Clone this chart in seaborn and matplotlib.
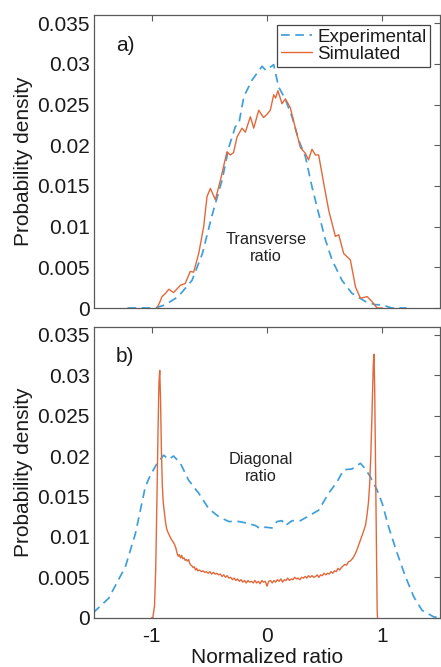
import numpy as np
import pandas as pd
import matplotlib
matplotlib.use("Agg")
import matplotlib.pyplot as plt
import seaborn as sns
from matplotlib.ticker import FixedLocator, FixedFormatter

# ---------------- data ----------------
exp_a_x = [-1.21, -1.10, -0.97, -0.88, -0.77, -0.65, -0.56, -0.48, -0.39, -0.33, -0.274, -0.245,
           -0.20, -0.13, -0.043, -0.01, 0.058, 0.10, 0.16, 0.217, 0.275, 0.333, 0.39, 0.448,
           0.506, 0.564, 0.65, 0.737, 0.853, 0.94, 0.997, 1.08, 1.21]
exp_a_y = [0.0, 0.0, 0.0, 0.0004, 0.0014, 0.0034, 0.0067, 0.0112, 0.0157, 0.0198, 0.0223, 0.0226,
           0.0260, 0.0280, 0.0297, 0.0292, 0.0299, 0.0272, 0.0256, 0.0235, 0.0206, 0.0186, 0.0149, 0.0116,
           0.0084, 0.0059, 0.0034, 0.0018, 0.0008, 0.0004, 0.0004, 0.0, 0.0]

sim_a_x = [-0.954, -0.93, -0.91, -0.88, -0.852, -0.81, -0.75, -0.71, -0.665, -0.636, -0.592, -0.549,
           -0.52, -0.491, -0.448, -0.404, -0.347, -0.318, -0.29, -0.26, -0.217, -0.188, -0.144, -0.115,
           -0.072, -0.03, 0.0, 0.029, 0.058, 0.075, 0.095, 0.13, 0.16, 0.202, 0.246, 0.29, 0.333,
           0.36, 0.39, 0.42, 0.448, 0.492, 0.535, 0.593, 0.622, 0.665, 0.723, 0.767, 0.81, 0.868,
           0.91, 0.954, 1.0]
sim_a_y = [0.0, 0.0007, 0.0014, 0.0018, 0.0023, 0.0019, 0.0028, 0.0030, 0.0045, 0.0044, 0.0067, 0.0100,
           0.0137, 0.0147, 0.0133, 0.0157, 0.0192, 0.0188, 0.0191, 0.0210, 0.0221, 0.0216, 0.0235, 0.0221,
           0.0243, 0.0234, 0.0238, 0.0243, 0.0262, 0.0258, 0.0267, 0.0251, 0.0257, 0.0246, 0.0221, 0.0197, 0.0190,
           0.0182, 0.0195, 0.0188, 0.0188, 0.0153, 0.0120, 0.0088, 0.0090, 0.0067, 0.0059, 0.0026, 0.0012, 0.0014,
           0.0008, 0.0, 0.0]

exp_b_x = [-1.508, -1.373, -1.228, -1.141, -1.055, -1.012, -0.953, -0.896, -0.853, -0.81, -0.751, -0.679,
           -0.592, -0.506, -0.419, -0.332, -0.246, -0.173, -0.10, -0.057, -0.014, 0.043, 0.087, 0.13,
           0.16, 0.217, 0.289, 0.376, 0.448, 0.535, 0.607, 0.665, 0.737, 0.81, 0.853, 0.897, 0.954,
           1.0, 1.055, 1.128, 1.20, 1.272, 1.345, 1.446, 1.50]
exp_b_y = [0.0006, 0.0024, 0.0063, 0.0104, 0.0162, 0.0176, 0.0191, 0.0201, 0.0196, 0.0200, 0.0191, 0.0170,
           0.0154, 0.0135, 0.0125, 0.0119, 0.0119, 0.0117, 0.0114, 0.0110, 0.0112, 0.0111, 0.0119, 0.0120,
           0.0114, 0.0120, 0.0120, 0.0127, 0.0133, 0.0154, 0.0168, 0.0183, 0.0184, 0.0191, 0.0184, 0.0174, 0.0158,
           0.0141, 0.0112, 0.0080, 0.0051, 0.0026, 0.0009, 0.0001, 0.0]

sim_b_x = [-1.000, -0.990, -0.975, -0.965, -0.955, -0.945, -0.937, -0.930, -0.923, -0.916, -0.908, -0.900,
           -0.890, -0.880, -0.870, -0.860, -0.850, -0.840, -0.830, -0.820, -0.810,
           -0.800, -0.790, -0.780, -0.770, -0.760, -0.750, -0.740, -0.730, -0.720, -0.710, -0.700, -0.690,
           -0.680, -0.670, -0.660, -0.650, -0.640, -0.630, -0.620, -0.610, -0.600, -0.585, -0.570, -0.555,
           -0.540, -0.525, -0.510, -0.495, -0.480, -0.465, -0.450, -0.435, -0.420, -0.405, -0.390, -0.375,
           -0.360, -0.345, -0.330, -0.315, -0.300, -0.285, -0.270, -0.255, -0.240, -0.225, -0.210, -0.195,
           -0.180, -0.165, -0.150, -0.135, -0.120, -0.105, -0.090, -0.075, -0.060, -0.045, -0.030, -0.015,
           0.000, 0.015, 0.030, 0.045, 0.060, 0.075, 0.090, 0.105, 0.120, 0.135, 0.150, 0.165, 0.180, 0.195,
           0.210, 0.225, 0.240, 0.255, 0.270, 0.285, 0.300, 0.315, 0.330, 0.345, 0.360, 0.375, 0.390, 0.405,
           0.420, 0.435, 0.450, 0.465, 0.480, 0.495, 0.510, 0.525, 0.540, 0.555, 0.570, 0.585, 0.600, 0.615,
           0.630, 0.645, 0.660, 0.675, 0.690, 0.705, 0.720, 0.735, 0.750, 0.765, 0.780, 0.795, 0.810, 0.825,
           0.840, 0.855, 0.868, 0.880, 0.890, 0.900, 0.908, 0.916, 0.922, 0.928, 0.934, 0.940, 0.946, 0.951,
           0.955, 0.958]
sim_b_y = [0.0, 0.0, 0.0015, 0.0060, 0.0140, 0.0230, 0.0290, 0.0306, 0.0270, 0.0210, 0.0165, 0.0143,
           0.0130, 0.0118, 0.0110, 0.0106, 0.0103, 0.0100, 0.0097, 0.0095, 0.0093,
           0.0090, 0.0086, 0.0080, 0.0076, 0.0078, 0.0074, 0.0077, 0.0073, 0.0074, 0.0071, 0.0072, 0.0070,
           0.0072, 0.0067, 0.0065, 0.0064, 0.0062, 0.0063, 0.0059, 0.0061, 0.0058, 0.0059, 0.0057, 0.0058,
           0.0056, 0.0057, 0.0055, 0.0057, 0.0054, 0.0056, 0.0054, 0.0055, 0.0053, 0.0054, 0.0051, 0.0053,
           0.0050, 0.0052, 0.0049, 0.0050, 0.0047, 0.0049, 0.0046, 0.0048, 0.0045, 0.0047, 0.0044, 0.0046,
           0.0043, 0.0046, 0.0044, 0.0045, 0.0043, 0.0046, 0.0043, 0.0045, 0.0042, 0.0046, 0.0044, 0.0045,
           0.0039, 0.0045, 0.0046, 0.0043, 0.0046, 0.0044, 0.0047, 0.0045, 0.0048, 0.0044, 0.0047, 0.0046, 0.0049, 0.0046,
           0.0048, 0.0047, 0.0050, 0.0048, 0.0049, 0.0047, 0.0050, 0.0049, 0.0051, 0.0049, 0.0052, 0.0050, 0.0052, 0.0050,
           0.0051, 0.0053, 0.0050, 0.0053, 0.0052, 0.0055, 0.0053, 0.0055, 0.0054, 0.0057, 0.0055, 0.0058, 0.0057, 0.0061,
           0.0059, 0.0062, 0.0064, 0.0066, 0.0065, 0.0069, 0.0070, 0.0072, 0.0075, 0.0079, 0.0084, 0.0090, 0.0096, 0.0102,
           0.0108, 0.0115, 0.0128, 0.0143, 0.0165, 0.0200, 0.0240, 0.0285, 0.0315, 0.0326, 0.0280, 0.0200, 0.0120, 0.0050,
           0.0010, 0.0]

y_ticks = [0, 0.005, 0.01, 0.015, 0.02, 0.025, 0.03, 0.035]
y_tick_labels = ["0", "0.005", "0.01", "0.015", "0.02", "0.025", "0.03", "0.035"]
x_ticks = [-1, 0, 1]
x_tick_labels = ["-1", "0", "1"]

series_labels = ["Experimental", "Simulated"]
panel_labels = ["a)", "b)"]
annotations = ["Transverse\nratio", "Diagonal\nratio"]

# ---------------- style ----------------
sns.set_theme(style="white")
plt.rcParams["font.family"] = ["Liberation Sans", "DejaVu Sans"]
plt.rcParams["axes.unicode_minus"] = False
plt.rcParams["lines.dashed_pattern"] = (5.0, 3.2)

BLUE = "#3f9fda"
ORANGE = "#e2683a"
SPINE = "#5a5a5a"

W, H = 441, 667
fig = plt.figure(figsize=(W / 100, H / 100), dpi=100)
fig.patch.set_facecolor("white")

def px_axes(left, top, right, bottom):
    return fig.add_axes([left / W, 1 - bottom / H, (right - left) / W, (bottom - top) / H])

ax_a = px_axes(94, 15, 440, 308)
ax_b = px_axes(94, 326.7, 440, 617.7)

df_exp_a = pd.DataFrame({"x": exp_a_x, "y": exp_a_y})
df_sim_a = pd.DataFrame({"x": sim_a_x, "y": sim_a_y})
df_exp_b = pd.DataFrame({"x": exp_b_x, "y": exp_b_y})
df_sim_b = pd.DataFrame({"x": sim_b_x, "y": sim_b_y})

for ax, de, ds in [(ax_a, df_exp_a, df_sim_a), (ax_b, df_exp_b, df_sim_b)]:
    sns.lineplot(data=de, x="x", y="y", ax=ax, color=BLUE, lw=1.25, sort=False,
                 label=series_labels[0], linestyle="--")
    sns.lineplot(data=ds, x="x", y="y", ax=ax, color=ORANGE, lw=1.0, sort=False,
                 label=series_labels[1])
    ax.set_xlim(-1.5, 1.5)
    ax.set_ylim(0, 0.036)
    ax.yaxis.set_major_locator(FixedLocator(y_ticks))
    ax.yaxis.set_major_formatter(FixedFormatter(y_tick_labels))
    ax.xaxis.set_major_locator(FixedLocator(x_ticks))
    ax.tick_params(direction="in", length=4, width=0.8, color=SPINE, top=True, right=True,
                   labelsize=15, labelcolor="#1a1a1a")
    ax.tick_params(axis="y", pad=3)
    for s in ax.spines.values():
        s.set_color(SPINE)
        s.set_linewidth(0.9)
        s.set_visible(True)
    ax.set_ylabel("Probability density", fontsize=15, color="#1a1a1a")
    ax.yaxis.set_label_coords(-0.176, 0.5)
    ax.set_xlabel("")

ax_a.xaxis.set_major_formatter(FixedFormatter(["", "", ""]))
ax_b.xaxis.set_major_formatter(FixedFormatter(x_tick_labels))
ax_b.tick_params(axis="x", pad=7)
ax_b.set_xlabel("Normalized ratio", fontsize=15, color="#1a1a1a", labelpad=1)

ax_a.text(-1.312, 0.0323, panel_labels[0], fontsize=15, va="center", ha="left", color="#1a1a1a")
ax_b.text(-1.312, 0.0323, panel_labels[1], fontsize=15, va="center", ha="left", color="#1a1a1a")

ax_a.text(-0.011, 0.0074, annotations[0], fontsize=11.7, ha="center", va="center",
          linespacing=1.2, color="#222222")
ax_b.text(-0.055, 0.0185, annotations[1], fontsize=11.7, ha="center", va="center",
          linespacing=1.2, color="#222222")

ax_b.get_legend().remove()
leg = ax_a.legend(loc="upper right", bbox_to_anchor=((430 - 94) / 346, 1 - 10 / 293),
                  borderaxespad=0, fontsize=13.5, frameon=True, fancybox=False,
                  framealpha=1, edgecolor="#444444", handlelength=1.65, handletextpad=0.28,
                  labelspacing=0.0, borderpad=0.2)
leg.get_frame().set_linewidth(0.9)
for t in leg.get_texts():
    t.set_color("#1a1a1a")

fig.savefig("out.png", dpi=100, facecolor="white")
